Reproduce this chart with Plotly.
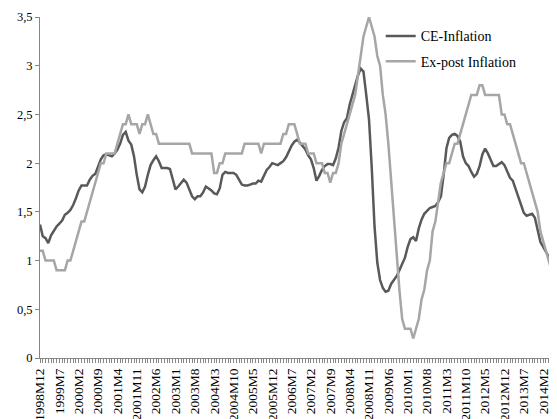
import plotly.graph_objects as go

# Monthly categories 1998M12 .. 2014M7
months = ["1998M12"] + [f"{y}M{m}" for y in range(1999, 2015) for m in range(1, 13)]
months = months[:188]

ce_inflation = [
    1.37, 1.25, 1.23, 1.18, 1.26, 1.31, 1.35, 1.38, 1.41, 1.47, 1.49, 1.52,
    1.57, 1.64, 1.72, 1.77, 1.77, 1.77, 1.83, 1.87, 1.89, 1.96, 2.04, 2.08,
    2.09, 2.08, 2.07, 2.10, 2.14, 2.20, 2.29, 2.32, 2.23, 2.19, 2.07, 1.88,
    1.73, 1.70, 1.76, 1.88, 1.98, 2.03, 2.07, 2.02, 1.95, 1.95, 1.95, 1.94,
    1.83, 1.73, 1.76, 1.79, 1.83, 1.80, 1.72, 1.66, 1.63, 1.66, 1.66, 1.70,
    1.76, 1.74, 1.72, 1.69, 1.68, 1.74, 1.88, 1.91, 1.90, 1.90, 1.90, 1.88,
    1.83, 1.78, 1.77, 1.77, 1.78, 1.79, 1.79, 1.82, 1.81, 1.88, 1.93, 1.96,
    2.00, 1.99, 1.98, 2.00, 2.02, 2.06, 2.13, 2.18, 2.22, 2.24, 2.21, 2.18,
    2.14, 2.08, 2.04, 1.95, 1.82, 1.87, 1.93, 1.97, 1.99, 1.99, 1.98, 2.05,
    2.16, 2.33, 2.42, 2.46, 2.60, 2.70, 2.80, 2.90, 2.97, 2.94, 2.70, 2.45,
    1.95, 1.35, 0.98, 0.80, 0.72, 0.68, 0.69, 0.76, 0.80, 0.84, 0.90, 0.96,
    1.03, 1.14, 1.22, 1.24, 1.20, 1.33, 1.42, 1.48, 1.51, 1.54, 1.55, 1.56,
    1.60, 1.66, 1.88, 2.15, 2.26, 2.29, 2.30, 2.28, 2.22, 2.07, 2.00, 1.97,
    1.91, 1.86, 1.89, 1.97, 2.09, 2.15, 2.10, 2.03, 1.97, 1.97, 1.99, 2.01,
    1.98, 1.91, 1.85, 1.82, 1.74, 1.66, 1.59, 1.49, 1.46, 1.47, 1.48, 1.44,
    1.30, 1.19, 1.14, 1.09, 1.04, 0.99, 0.97, 0.95,
]

expost_inflation = [
    1.1, 1.1, 1.0, 1.0, 1.0, 1.0, 0.9, 0.9, 0.9, 0.9, 1.0, 1.0,
    1.1, 1.2, 1.3, 1.4, 1.4, 1.5, 1.6, 1.7, 1.8, 1.9, 2.0, 2.0,
    2.1, 2.1, 2.1, 2.1, 2.2, 2.3, 2.4, 2.4, 2.5, 2.4, 2.4, 2.4,
    2.3, 2.4, 2.4, 2.5, 2.4, 2.3, 2.3, 2.2, 2.2, 2.2, 2.2, 2.2,
    2.2, 2.2, 2.2, 2.2, 2.2, 2.2, 2.2, 2.1, 2.1, 2.1, 2.1, 2.1,
    2.1, 2.1, 2.1, 1.9, 1.9, 2.0, 2.0, 2.1, 2.1, 2.1, 2.1, 2.1,
    2.1, 2.1, 2.2, 2.2, 2.2, 2.2, 2.2, 2.2, 2.1, 2.2, 2.2, 2.2,
    2.2, 2.2, 2.2, 2.2, 2.3, 2.3, 2.4, 2.4, 2.4, 2.3, 2.2, 2.2,
    2.2, 2.1, 2.1, 2.1, 2.0, 2.0, 2.0, 1.9, 1.9, 1.8, 1.9, 1.9,
    2.0, 2.2, 2.3, 2.4, 2.5, 2.6, 2.7, 2.9, 3.1, 3.3, 3.4, 3.5,
    3.4, 3.3, 3.1, 3.0, 2.7, 2.5, 2.2, 1.8, 1.5, 1.1, 0.7, 0.4,
    0.3, 0.3, 0.3, 0.2, 0.3, 0.4, 0.6, 0.7, 0.9, 1.0, 1.3, 1.4,
    1.6, 1.8, 1.9, 2.0, 2.0, 2.1, 2.2, 2.2, 2.3, 2.4, 2.5, 2.6,
    2.7, 2.7, 2.7, 2.8, 2.8, 2.7, 2.7, 2.7, 2.7, 2.7, 2.7, 2.5,
    2.5, 2.4, 2.4, 2.3, 2.2, 2.1, 2.0, 2.0, 1.9, 1.8, 1.7, 1.6,
    1.5, 1.3, 1.2, 1.1, 1.0, 0.9, 0.8, 0.8,
]

x_idx = list(range(len(months)))
x_tick_idx = x_idx[::7]
x_tick_labels = months[::7]
y_tick_vals = [0, 0.5, 1, 1.5, 2, 2.5, 3, 3.5]
y_tick_labels = ["0", "0,5", "1", "1,5", "2", "2,5", "3", "3,5"]

fig = go.Figure()
fig.add_trace(go.Scatter(
    x=x_idx, y=ce_inflation, mode="lines", name="CE-Inflation", legendgroup="ce",
    line=dict(color="#595959", width=2.5), customdata=months,
    hovertemplate="%{customdata}: %{y}<extra></extra>"))
fig.add_trace(go.Scatter(
    x=x_idx, y=expost_inflation, mode="lines", name="Ex-post Inflation", legendgroup="ex",
    line=dict(color="#A6A6A6", width=2.5), customdata=months,
    hovertemplate="%{customdata}: %{y}<extra></extra>"))

# The page body has an 8px margin; size the figure so the plot area lands
# at page x 40..557 and y 17..358.
fig.update_layout(
    width=549, height=411,
    margin=dict(l=32, r=0, t=9, b=61, autoexpand=False),
    paper_bgcolor="white", plot_bgcolor="white",
    font=dict(family="Liberation Serif, Times New Roman, serif", size=12, color="black"),
    showlegend=True,
    legend=dict(x=0.659, y=0.99, xanchor="left", yanchor="top",
                bgcolor="rgba(0,0,0,0)", font=dict(size=14),
                itemwidth=30, tracegroupgap=4, traceorder="grouped"),
)
fig.update_xaxes(
    range=[0, len(months) - 1], tickmode="array", automargin=False,
    tickvals=x_tick_idx, ticktext=x_tick_labels, tickangle=-90,
    showgrid=False, zeroline=False, showline=True, linecolor="#868686", linewidth=1,
    ticks="outside", ticklen=4, tickcolor="#868686",
    minor=dict(ticks="outside", ticklen=4, tickcolor="#868686", dtick=1, tick0=0, showgrid=False),
    tickfont=dict(size=13.5),
)
fig.update_yaxes(
    range=[0, 3.5], tickmode="array", tickvals=y_tick_vals, ticktext=y_tick_labels,
    automargin=False,
    showgrid=False, zeroline=False, showline=True, linecolor="#868686", linewidth=1,
    ticks="outside", ticklen=4, tickcolor="#868686", tickfont=dict(size=12.5),
)

fig.write_html("out.html")
